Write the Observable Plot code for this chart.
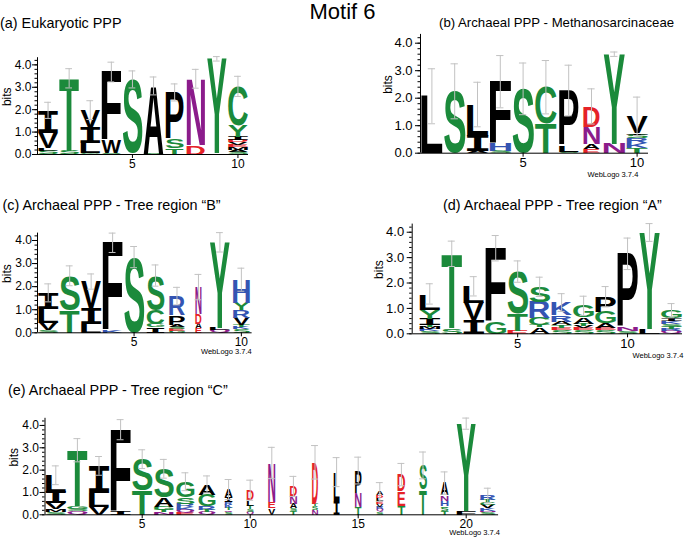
<!DOCTYPE html>
<html><head><meta charset="utf-8">
<script src="https://cdn.jsdelivr.net/npm/d3@7"></script>
<script src="https://cdn.jsdelivr.net/npm/@observablehq/plot@0.6"></script>
<style>
body{margin:0;background:#fff;}
#root{position:relative;width:685px;height:537px;overflow:hidden;font-family:"Liberation Sans",Arial,Helvetica,sans-serif;background:#fff;}
.t{position:absolute;white-space:nowrap;color:#000;line-height:1;}
.r{text-align:right;}
.p{position:absolute;}
</style></head><body><div id="root"></div>
<script>
// ---------- DATA (letters bottom -> top, heights in bits, stack width fraction) ----------
const aLetters = ["SLVI","ST","GLIV","SWF","TS","SA","TSP","DN","KY","SAMEVDIYC"];
const aBits = [[0.15,0.12,0.7,1.0],[0.15,3.25],[0.05,0.45,0.68,0.8],[0.08,0.55,3.05],[0.05,3.3],[0.04,3.02],[0.3,0.4,2.07],[0.42,2.96],[0.07,4.2],[0.1,0.1,0.12,0.12,0.12,0.1,0.14,0.5,1.74]];
const aErr = [0.36,0.43,0.42,0.44,0.38,0.4,0.38,0.42,0.1,0.45];
const aWidth = [1,1,1,1,1,1,0.92,0.94,1,1];

const bLetters = ["L","S","AIL","SHF","S","TC","SLP","EAND","NY","TKRSIV"];
const bBits = [[2.07],[2.25],[0.08,0.56,1.13],[0.08,0.26,2.26],[2.34],[1.07,1.33],[0.05,0.25,1.98],[0.15,0.2,0.6,0.75],[0.35,3.25],[0.2,0.18,0.18,0.12,0.06,0.6]];
const bErr = [1.0,1.0,0.81,0.95,0.94,0.97,0.92,0.64,0.08,0.7];
const bWidth = [1,1,1,1,1,1,0.92,0.78,1,1];

const cLetters = ["SVLI","TS","LIV","KF","S","IGCS","GESAPR","EADN","QLY","SKTVRYH"];
const cBits = [[0.12,0.3,0.63,0.68],[0.97,1.5],[0.39,0.67,1.16],[0.1,3.8],[3.28],[0.24,0.14,0.6,1.5],[0.09,0.08,0.08,0.1,0.4,0.84],[0.2,0.2,0.42,1.16],[0.1,0.12,3.7],[0.15,0.1,0.1,0.3,0.35,0.3,1.0]];
const cErr = [0.39,0.43,0.33,0.42,0.46,0.46,0.38,0.55,0.42,0.5];
const cWidth = [1,1,1,1,1,0.88,0.8,0.35,1,0.85];

const dLetters = ["SKMTIYL","ST","IVL","GF","ETS","ATCRS","SETARK","SEVTAG","SEAGP","SNP","LY","QRTSKIG"];
const dBits = [[0.1,0.07,0.1,0.08,0.25,0.35,0.62],[0.22,2.93],[0.54,0.68,0.65],[0.47,2.9],[0.12,0.68,1.65],[0.26,0.08,0.28,0.63,0.6],[0.15,0.08,0.1,0.15,0.25,0.5],[0.13,0.08,0.1,0.08,0.25,0.46],[0.13,0.08,0.2,0.45,0.6],[0.1,0.15,2.9],[0.19,3.8],[0.1,0.07,0.1,0.12,0.12,0.1,0.3]];
const dErr = [0.4,0.5,0.38,0.5,0.42,0.38,0.35,0.38,0.4,0.62,0.35,0.28];
const dWidth = [1,1,1,1,1,1,1,1,1,1,1,1];

const eLetters = ["SMVIL","QSGT","VLI","IF","TS","NTGAS","EQKRSG","QTRGA","SQTKRIA","QSTLD","VEN","TSAND","NSTD","IL","TNP","SQRVELDA","TED","TS","TSGHNA","FY","SNKVCTR"];
const eBits = [[0.12,0.12,0.28,0.5,0.75],[0.15,0.12,0.12,2.5],[0.34,0.65,1.2],[0.14,3.67],[1.09,1.4],[0.11,0.1,0.15,0.4,1.3],[0.09,0.12,0.12,0.15,0.3,0.7],[0.11,0.12,0.15,0.5,0.48],[0.11,0.1,0.1,0.15,0.12,0.2,0.35],[0.13,0.12,0.15,0.25,0.45],[0.29,0.3,1.73],[0.18,0.12,0.2,0.32,0.45],[0.23,0.15,0.12,1.85],[0.64,1.27],[0.33,0.65,1.0],[0.13,0.12,0.12,0.12,0.13,0.12,0.13,0.15],[0.4,0.65,0.75],[1.12,1.09],[0.17,0.15,0.08,0.22,0.25,0.55],[0.18,3.9],[0.11,0.06,0.12,0.15,0.12,0.1,0.2]];
const eErr = [0.42,0.52,0.42,0.45,0.42,0.42,0.4,0.38,0.45,0.45,0.7,0.45,0.75,0.65,0.6,0.42,0.5,0.6,0.5,0.25,0.33];
const eWidth = [1,1,1,1,1,0.97,0.9,0.85,0.42,0.39,0.39,0.39,0.34,0.34,0.37,0.39,0.42,0.42,0.42,0.96,0.78];

const titles = ["(a) Eukaryotic PPP","(b) Archaeal PPP - Methanosarcinaceae","(c) Archaeal PPP - Tree region \u201CB\u201D","(d) Archaeal PPP - Tree region \u201CA\u201D","(e) Archaeal PPP - Tree region \u201CC\u201D"];
const mainTitle = "Motif 6";
const stamp = "WebLogo 3.7.4";
const yTicks = [0,1,2,3,4];

const groupNames = ["polar","amide","basic","acidic","hydrophobic"];
const groupLetters = ["GSTYC","NQ","KRH","DE","AVLIPWFM"];
const groupColors = ["#1b8a3b","#8b1c8b","#3454b2","#e52228","#000000"];

// ---------- helpers ----------
const FONT = '"Liberation Sans", Arial, Helvetica, sans-serif';
const ERR = "#c2c2c2";
const FS = 100;
function groupOf(ch){ const k = groupLetters.findIndex(s => s.includes(ch)); return groupNames[k < 0 ? 4 : k]; }
const ctx = document.createElement("canvas").getContext("2d");
const inkCache = {};
function ink(ch){
  if (!inkCache[ch]) {
    const fam = ch === "I" ? '"DejaVu Sans Mono"' : '"Liberation Sans"';
    ctx.font = `bold ${FS}px ${fam}`;
    ctx.textAlign = "left"; ctx.textBaseline = "alphabetic";
    const m = ctx.measureText(ch);
    inkCache[ch] = {fam, l: m.actualBoundingBoxLeft, r: m.actualBoundingBoxRight, a: m.actualBoundingBoxAscent, d: m.actualBoundingBoxDescent};
  }
  return inkCache[ch];
}
function stackRows(letters, bits, widths){
  const rows = [];
  letters.forEach((s, i) => { let y = 0; [...s].forEach((ch, j) => { const b = bits[i][j]; rows.push({pos: i + 1, w: widths[i], letter: ch, y0: y, y1: y + b, group: groupOf(ch)}); y += b; }); });
  return rows;
}
function errRows(bits, err){ return bits.map((b, i) => { const top = d3.sum(b); return {pos: i + 1, lo: top - err[i], hi: top + err[i]}; }); }

const root = document.getElementById("root");
function addText(txt, cls, css){ const d = document.createElement("div"); d.className = "t " + (cls||""); d.textContent = txt; Object.assign(d.style, css); root.appendChild(d); return d; }

function logo(cfg){
  const rows = stackRows(cfg.letters, cfg.bits, cfg.widths);
  const errs = errRows(cfg.bits, cfg.err);
  const caps = errs.flatMap(d => [{pos: d.pos, y: d.lo}, {pos: d.pos, y: d.hi}]);
  const x0 = cfg.xDomain[0];
  const plot = Plot.plot({
    width: cfg.width, height: cfg.height,
    marginLeft: cfg.ml, marginRight: cfg.mr, marginTop: cfg.mt, marginBottom: cfg.mb,
    x: {domain: cfg.xDomain, label: null},
    y: {domain: [0, 4.32], label: null},
    color: {domain: groupNames, range: groupColors},
    style: {fontFamily: FONT, fontSize: cfg.tickFs + "px", background: "transparent", overflow: "visible", color: "#000"},
    marks: [
      Plot.text(rows, {x: "pos", y: "y0", text: "letter", fill: "group", fontSize: FS, fontWeight: "bold", textAnchor: "start", className: "logo-letters"}),
      Plot.ruleX(errs, {x: "pos", y1: "lo", y2: "hi", stroke: ERR, strokeWidth: 1}),
      Plot.ruleY(caps, {y: "y", x1: d => d.pos - 0.16, x2: d => d.pos + 0.16, stroke: ERR, strokeWidth: 1}),
      Plot.ruleY([0], {stroke: "#000"}),
      Plot.ruleX([x0], {y1: 0, y2: 4.32, stroke: "#000"}),
      Plot.axisY({ticks: d3.range(0, 4.3, 0.2), tickSize: 2.5, tickFormat: () => "", label: null}),
      Plot.axisY({ticks: yTicks, tickSize: 5, tickPadding: cfg.tickPad, tickFormat: d3.format(".1f"), fontSize: cfg.tickFs, label: null}),
      Plot.axisX({ticks: cfg.xTicks, tickSize: 4, tickPadding: 1, fontSize: cfg.tickFs, label: null}),
      Plot.text(["bits"], {frameAnchor: "left", rotate: -90, dx: cfg.bitsDx, fontSize: 12})
    ]
  });
  const wrap = document.createElement("div");
  wrap.className = "p";
  Object.assign(wrap.style, {left: cfg.left + "px", top: cfg.top + "px", width: cfg.width + "px", height: cfg.height + "px"});
  wrap.appendChild(plot);
  root.appendChild(wrap);

  // fit each letter glyph into its stack cell, using the plot's own scales
  const xs = plot.scale("x"), ys = plot.scale("y");
  let g = plot.querySelector("g.logo-letters");
  if (!g) g = [...plot.querySelectorAll('g[aria-label="text"]')].find(n => n.querySelectorAll("text").length === rows.length);
  const texts = g.querySelectorAll("text");
  texts.forEach((el, k) => {
    const i = typeof el.__data__ === "number" ? el.__data__ : k;
    const r = rows[i];
    const m = ink(r.letter);
    const left = xs.apply(r.pos - 0.5 * r.w) + 0.7, right = xs.apply(r.pos + 0.5 * r.w) - 0.7;
    const yb = ys.apply(r.y0), yt = ys.apply(r.y1);
    const sx = (right - left) / (m.l + m.r), sy = (yb - yt) / (m.a + m.d);
    ["x", "y", "dx", "dy"].forEach(a => el.removeAttribute(a));
    el.setAttribute("text-anchor", "start");
    el.style.fontFamily = m.fam; el.style.fontSize = FS + "px"; el.style.fontWeight = "bold";
    el.setAttribute("transform", `translate(${left + m.l * sx},${yb - m.d * sy}) scale(${sx},${sy})`);
  });
}

// ---------- titles ----------
addText(mainTitle, "", {left: "0px", width: "685px", textAlign: "center", top: "1px", fontSize: "22px"});
addText(titles[0], "", {left: "0px", top: "15.6px", fontSize: "14.4px"});
addText(titles[1], "", {left: "439px", top: "16.2px", fontSize: "13.2px"});
addText(titles[2], "", {left: "2.5px", top: "198px", fontSize: "14.4px"});
addText(titles[3], "", {left: "443px", top: "198px", fontSize: "14.4px"});
addText(titles[4], "", {left: "8px", top: "383px", fontSize: "14.4px"});

// ---------- panels ----------
logo({letters: aLetters, bits: aBits, err: aErr, widths: aWidth, left: 0, top: 40, width: 262, height: 140, ml: 37, mr: 14, mt: 17.2, mb: 26, xDomain: [0.5, 10.5], xTicks: [5, 10], tickFs: 12, tickPad: 1, bitsDx: -30.5});
logo({letters: bLetters, bits: bBits, err: bErr, widths: bWidth, left: 380, top: 20, width: 305, height: 165, ml: 40, mr: 37, mt: 13.9, mb: 32.3, xDomain: [0.5, 10.5], xTicks: [5, 10], tickFs: 13, tickPad: 3, bitsDx: -32.7});
logo({letters: cLetters, bits: cBits, err: cErr, widths: cWidth, left: 0, top: 215, width: 262, height: 140, ml: 37, mr: 10.4, mt: 17.6, mb: 22.7, xDomain: [0.5, 10.5], xTicks: [5, 10], tickFs: 12, tickPad: 0.5, bitsDx: -30.6});
logo({letters: dLetters, bits: dBits, err: dErr, widths: dWidth, left: 370, top: 210, width: 314, height: 140, ml: 41.7, mr: 2, mt: 13.6, mb: 16.7, xDomain: [0.2, 12.5], xTicks: [5, 10], tickFs: 13, tickPad: 3, bitsDx: -32.7});
logo({letters: eLetters, bits: eBits, err: eErr, widths: eWidth, left: 0, top: 400, width: 510, height: 137, ml: 44.5, mr: 11.9, mt: 17.8, mb: 22.7, xDomain: [0.5, 21.5], xTicks: [5, 10, 15, 20], tickFs: 12, tickPad: 1, bitsDx: -30.7});

// ---------- WebLogo stamps ----------
addText(stamp, "r", {right: (685 - 638.3) + "px", top: "170.8px", fontSize: "7.5px"});
addText(stamp, "r", {right: (685 - 251.7) + "px", top: "348px", fontSize: "7.5px"});
addText(stamp, "r", {right: (685 - 683.3) + "px", top: "352px", fontSize: "7.5px"});
addText(stamp, "r", {right: (685 - 500) + "px", top: "529px", fontSize: "7.5px"});
</script>
</body></html>
